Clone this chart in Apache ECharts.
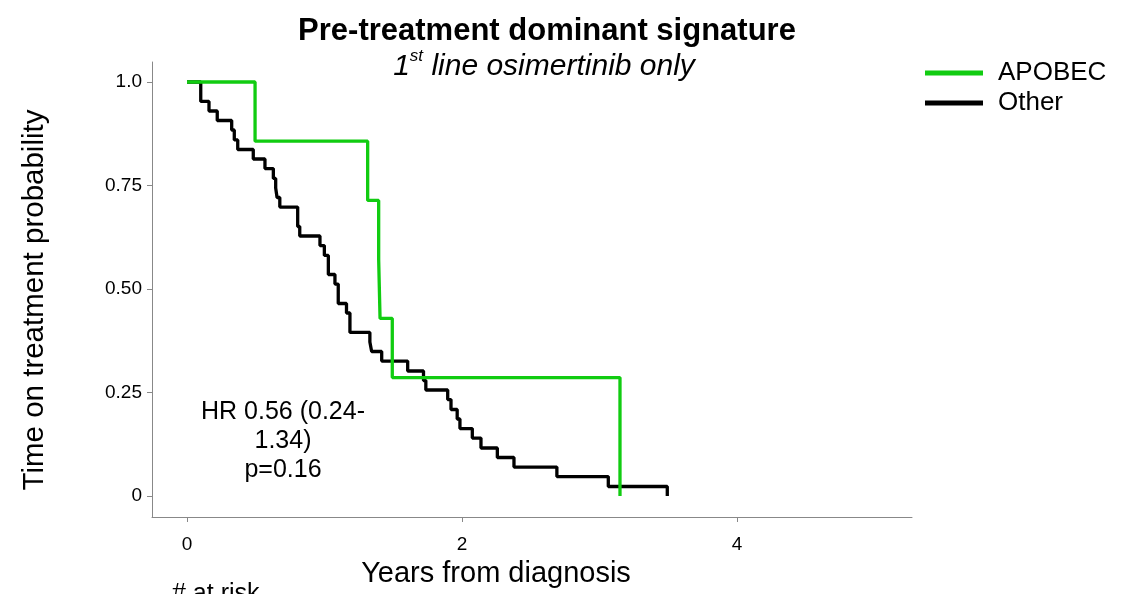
<!DOCTYPE html>
<html>
<head>
<meta charset="utf-8">
<script src="https://cdn.jsdelivr.net/npm/echarts@6/dist/echarts.min.js"></script>
<style>
  html, body { margin: 0; padding: 0; background: #fff; }
  #chart { width: 1138px; height: 594px; }
</style>
</head>
<body>
<div id="chart"></div>
<script>
// Kaplan–Meier step curves: event times (years) and survival probability after each event
const apobecTimes = [0, 0.495, 1.314, 1.394, 1.404, 1.493, 3.149];
const apobecSurv  = [1.0, 0.857, 0.714, 0.571, 0.429, 0.286, 0.0];

const otherTimes = [0, 0.10, 0.16, 0.22, 0.325, 0.344, 0.369, 0.482, 0.567, 0.628, 0.645, 0.655, 0.675,
  0.805, 0.82, 0.967, 0.999, 1.028, 1.076, 1.10, 1.16, 1.185, 1.33, 1.343, 1.416, 1.605, 1.72, 1.737,
  1.896, 1.92, 1.965, 1.985, 2.075, 2.138, 2.257, 2.378, 2.69, 3.064, 3.493];
const otherSurv = [1.0, 0.953, 0.930, 0.907, 0.884, 0.860, 0.837, 0.814, 0.791, 0.767, 0.744, 0.721, 0.698,
  0.651, 0.628, 0.605, 0.581, 0.535, 0.512, 0.465, 0.442, 0.395, 0.372, 0.349, 0.326, 0.302, 0.279, 0.256,
  0.233, 0.209, 0.186, 0.163, 0.140, 0.116, 0.093, 0.070, 0.047, 0.023, 0.0];

const seriesNames = ['APOBEC', 'Other'];
const xTicks = [0, 2, 4];
const yTicks = [0, 0.25, 0.5, 0.75, 1];
const yTickLabels = ['0', '0.25', '0.50', '0.75', '1.0'];
const hrLines = ['HR 0.56 (0.24-', '1.34)', 'p=0.16'];

const FONT = 'Liberation Sans, Arial, sans-serif';
const GREEN = '#11cc11';

function pairs(xs, ys) { return xs.map((x, i) => [x, ys[i]]); }

const chart = echarts.init(document.getElementById('chart'), null, { renderer: 'canvas' });

chart.setOption({
  animation: false,
  backgroundColor: '#fff',
  textStyle: { fontFamily: FONT },
  title: [
    {
      text: 'Pre-treatment dominant signature',
      left: 542, top: 11, textAlign: 'center',
      textStyle: { fontFamily: FONT, fontSize: 31, fontWeight: 'bold', color: '#000' }
    },
    {
      text: '{n|1}{s|st}{n| line osimertinib only}',
      left: 539, top: 43, textAlign: 'center',
      textStyle: {
        fontWeight: 'normal',
        rich: {
          n: { fontFamily: FONT, fontSize: 30, fontStyle: 'italic', fontWeight: 'normal', color: '#000', verticalAlign: 'bottom', lineHeight: 34 },
          s: { fontFamily: FONT, fontSize: 17, fontStyle: 'italic', fontWeight: 'normal', color: '#000', verticalAlign: 'top', lineHeight: 34 }
        }
      }
    }
  ],
  legend: {
    data: seriesNames,
    orient: 'vertical',
    left: 920, top: 55,
    icon: 'rect',
    itemWidth: 58, itemHeight: 5,
    itemGap: 4,
    textStyle: { fontFamily: FONT, fontSize: 26, color: '#000', padding: [0, 0, 0, 10] }
  },
  grid: { left: 152, right: 226, top: 62, bottom: 77, containLabel: false },
  xAxis: {
    type: 'value',
    min: -0.2545, max: 5.2727,
    axisLine: { show: true, onZero: false, lineStyle: { color: '#888', width: 1 } },
    axisTick: { show: true, customValues: xTicks, length: 5, lineStyle: { color: '#888' } },
    axisLabel: { customValues: xTicks, fontFamily: FONT, fontSize: 19, color: '#000', margin: 18 },
    splitLine: { show: false }
  },
  yAxis: {
    type: 'value',
    min: -0.0507, max: 1.0483,
    axisLine: { show: true, onZero: false, lineStyle: { color: '#888', width: 1 } },
    axisTick: { show: true, customValues: yTicks, length: 5, lineStyle: { color: '#888' } },
    axisLabel: {
      customValues: yTicks, fontFamily: FONT, fontSize: 19, color: '#000', margin: 10,
      formatter: v => yTickLabels[yTicks.indexOf(+v.toFixed(2))]
    },
    splitLine: { show: false }
  },
  series: [
    {
      name: seriesNames[0], type: 'line', step: 'end', showSymbol: false, symbol: 'none',
      data: pairs(apobecTimes, apobecSurv), z: 3,
      lineStyle: { color: GREEN, width: 3.3 }, itemStyle: { color: GREEN }
    },
    {
      name: seriesNames[1], type: 'line', step: 'end', showSymbol: false, symbol: 'none',
      data: pairs(otherTimes, otherSurv), z: 2,
      lineStyle: { color: '#000', width: 3.3 }, itemStyle: { color: '#000' }
    }
  ],
  graphic: [
    {
      // y axis title
      type: 'text', x: 35, y: 300, rotation: Math.PI / 2,
      style: {
        text: 'Time on treatment probability', fontFamily: FONT, fontSize: 29.5, fill: '#000',
        align: 'center', verticalAlign: 'middle'
      }
    },
    {
      // x axis title
      type: 'text', x: 496, y: 574,
      style: {
        text: 'Years from diagnosis', fontFamily: FONT, fontSize: 29, fill: '#000',
        align: 'center', verticalAlign: 'middle'
      }
    },
    {
      // hazard ratio annotation
      type: 'text', x: 283, y: 398,
      style: {
        text: hrLines.join('\n'), fontFamily: FONT, fontSize: 25, fill: '#000',
        align: 'center', verticalAlign: 'top', lineHeight: 29
      }
    },
    {
      type: 'text', x: 172, y: 582,
      style: { text: '# at risk', fontFamily: FONT, fontSize: 25, fill: '#000' }
    }
  ]
});
</script>
</body>
</html>
